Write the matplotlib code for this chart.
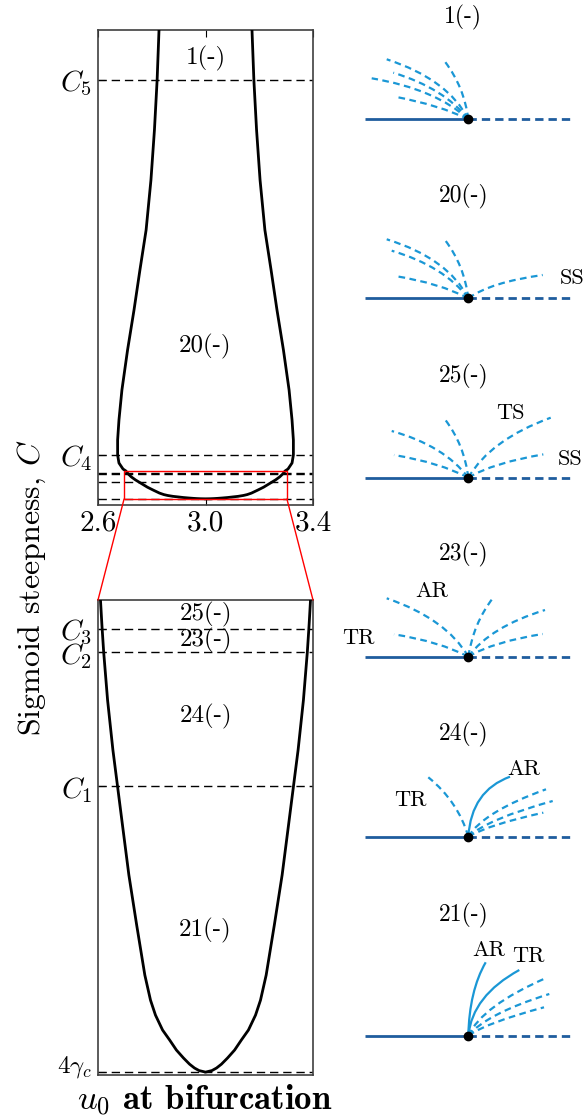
import numpy as np
import matplotlib.pyplot as plt
from matplotlib.path import Path
from matplotlib.patches import PathPatch, Rectangle, ConnectionPatch

plt.rcParams['font.family'] = 'serif'
plt.rcParams['font.serif'] = ['cmr10', 'DejaVu Serif']
plt.rcParams['mathtext.fontset'] = 'cm'
plt.rcParams['axes.formatter.use_mathtext'] = True

# bifurcation curve, C on the picture's own (arbitrary) vertical scale,
# half width of the loop in u0 around its centre
u_center = 3.0
C_curve = [50.0, 47.5, 42.5, 37.5, 32.5, 27.5, 23.5, 19.5, 15.5, 11.5, 8.5, 6.5, 5.0,
           4.2, 3.6, 3.4, 3.253, 3.093, 2.81, 2.516, 2.303, 2.073, 1.779, 1.484, 1.189,
           1.041, 0.953, 0.865, 0.806, 0.747, 0.700, 0.664, 0.641, 0.626, 0.617]
half_width = [0.171, 0.173, 0.180, 0.190, 0.203, 0.221, 0.244, 0.266, 0.290, 0.311,
              0.322, 0.327, 0.327, 0.322, 0.307, 0.296, 0.292, 0.287, 0.276, 0.261,
              0.248, 0.234, 0.216, 0.194, 0.171, 0.155, 0.141, 0.121, 0.101, 0.082,
              0.062, 0.045, 0.031, 0.018, 0.0]

# critical C levels
level_names = [r'$C_5$', r'$C_4$', r'$C_3$', r'$C_2$', r'$C_1$', r'$4\gamma_c$']
level_values = [42.5, 5.0, 3.229, 3.093, 2.303, 0.617]

# region labels
top_regions = ['1(-)', '20(-)']
top_region_C = [44.7, 15.9]
bot_regions = ['25(-)', '23(-)', '24(-)', '21(-)']
bot_region_C = [3.317, 3.164, 2.716, 1.454]

u_ticks = [2.6, 3.0, 3.4]
zoom_u = [2.697, 3.303]
zoom_C = [0.6, 3.4]

# schematic bifurcation diagrams: (end x, end y, bend x, bend y, stable)
diag_titles = ['1(-)', '20(-)', '25(-)', '23(-)', '24(-)', '21(-)']
branches_1 = [(-81.6, 60.0, -20, 40, 0), (-75.0, 46.6, -24, 31, 0), (-96.6, 41.0, -32, 30, 0),
              (-73.3, 22.6, -28, 14, 0), (-23.3, 57.6, -4, 32, 0)]
branches_20 = [(-81.6, 59.0, -20, 40, 0), (-76.6, 47.6, -24, 32, 0), (-73.3, 22.3, -28, 15, 0),
               (-23.3, 58.3, -4, 33, 0), (74.4, 23.3, 22, 16, 0)]
branches_25 = [(-76.6, 46.7, -24, 32, 0), (-74.3, 22.7, -28, 15, 0), (-23.3, 58.3, -4, 33, 0),
               (82.4, 60.0, 22, 38, 0), (75.0, 23.3, 25, 15, 0)]
branches_23 = [(-81.6, 58.4, -22, 38, 0), (-74.3, 22.4, -28, 15, 0), (24.4, 58.4, 5, 33, 0),
               (76.7, 46.7, 22, 30, 0), (74.4, 22.7, 25, 15, 0)]
branches_24 = [(-40.0, 59.4, -10, 35, 0), (41.7, 60.0, 3, 46, 1), (77.7, 47.4, 15, 25, 0),
               (84.4, 35.7, 20, 18, 0), (75.0, 24.0, 20, 12, 0)]
branches_21 = [(17.4, 73.4, 1, 45, 1), (51.0, 65.7, 4, 40, 1), (78.4, 58.0, 14, 30, 0),
               (81.0, 41.7, 18, 22, 0), (75.7, 28.4, 18, 13, 0)]
labels_1 = []
labels_20 = [('SS', 103.4, 20.0)]
labels_25 = [('TS', 41.7, 64.4), ('SS', 101.7, 18.4)]
labels_23 = [('AR', -36.6, 65.0), ('TR', -110.0, 18.4)]
labels_24 = [('AR', 55.0, 67.4), ('TR', -58.3, 36.0)]
labels_21 = [('AR', 20.0, 85.7), ('TR', 60.0, 79.0)]
all_branches = [branches_1, branches_20, branches_25, branches_23, branches_24, branches_21]
all_labels = [labels_1, labels_20, labels_25, labels_23, labels_24, labels_21]
base_left, base_right = -103.3, 103.7

W, H = 585, 1119
fig = plt.figure(figsize=(W / 100, H / 100), dpi=100)


def px_axes(x0, y0, x1, y1):
    return fig.add_axes([x0 / W, 1 - y1 / H, (x1 - x0) / W, (y1 - y0) / H])


hw = np.array(half_width)
u_loop = np.concatenate([u_center - hw, (u_center + hw)[::-1]])
C_loop = np.concatenate([C_curve, C_curve[::-1]])
dash = (0, (6, 3.5))

ax_top = px_axes(98, 30, 313, 505)
ax_bot = px_axes(98, 600, 313, 1075)
for ax in (ax_top, ax_bot):
    for v in level_values:
        ax.axhline(v, color='k', lw=1, ls=dash, zorder=1)
    ax.plot(u_loop, C_loop, color='k', lw=2, zorder=3, solid_joinstyle='round')
    for s in ax.spines.values():
        s.set_color('0.25')
        s.set_linewidth(1.2)

# ---- top panel
ax_top.set_xlim(2.6, 3.4)
ax_top.set_ylim(0, 47.5)
ax_top.set_xticks(u_ticks)
ax_top.set_xticklabels([f'{t:.1f}' for t in u_ticks])
ax_top.set_yticks(level_values[:2])
ax_top.set_yticklabels(level_names[:2])
ax_top.tick_params(direction='in', top=True, length=5, labelsize=21, pad=4)
for name, c in zip(top_regions, top_region_C):
    ax_top.text(u_center, c, name, ha='center', va='center', fontsize=18)

ax_top.add_patch(Rectangle((zoom_u[0], zoom_C[0]), zoom_u[1] - zoom_u[0], zoom_C[1] - zoom_C[0],
                           fill=False, edgecolor='red', lw=1, zorder=4))

# ---- bottom (zoomed) panel
ax_bot.set_xlim(*zoom_u)
ax_bot.set_ylim(*zoom_C)
ax_bot.set_xticks([])
ax_bot.set_yticks(level_values[2:])
ax_bot.set_yticklabels(level_names[2:])
ax_bot.tick_params(direction='in', length=5, labelsize=21, pad=4)
gamma_lbl = ax_bot.get_yticklabels()[-1]
gamma_lbl.set_fontsize(18)
gamma_lbl.set_va('baseline')
for name, c in zip(bot_regions, bot_region_C):
    ax_bot.text(u_center, c, name, ha='center', va='center', fontsize=18)

for xa, xb in ((zoom_u[0], 0), (zoom_u[1], 1)):
    con = ConnectionPatch(xyA=(xa, zoom_C[0]), coordsA=ax_top.transData,
                          xyB=(xb, 1), coordsB=ax_bot.transAxes, color='red', lw=1)
    fig.add_artist(con)

fig.text(32 / W, 1 - 588 / H, r'Sigmoid steepness, $C$', rotation=90,
         ha='center', va='center', fontsize=23)
fig.text(205 / W, 1 - 1100 / H, r'$u_0$ at bifurcation', fontfamily='cmb10',
         ha='center', va='center', fontsize=25)

# ---- schematic diagrams
base_col = '#1f5d9e'
branch_col = '#1a97d5'
dot_x = 468.3
dot_y = [119.3, 298.3, 477.7, 656.7, 836.7, 1035.7]
title_dy = [102, 102, 101, 102, 102, 120.7]

for title, branches, labels, yy, tdy in zip(diag_titles, all_branches, all_labels, dot_y, title_dy):
    ax = px_axes(dot_x - 118.3, yy - 135, W, yy + 12)
    ax.set_xlim(-118.3, W - dot_x)
    ax.set_ylim(-12, 135)
    ax.axis('off')
    ax.plot([base_left, 0], [0, 0], color=base_col, lw=2, solid_capstyle='butt')
    ax.plot([0, base_right], [0, 0], color=base_col, lw=2, ls=(0, (3, 1.8)))
    for ex, ey, cx, cy, stable in branches:
        p = Path([(0, 0), (cx, cy), (ex, ey)], [Path.MOVETO, Path.CURVE3, Path.CURVE3])
        ax.add_patch(PathPatch(p, fill=False, edgecolor=branch_col, lw=1.6,
                               ls='-' if stable else (0, (3, 2))))
    ax.plot(0, 0, 'o', color='k', ms=6, zorder=5)
    ax.text(-5, tdy, title, ha='center', va='center', fontsize=17, clip_on=False)
    for txt, lx, ly in labels:
        ax.text(lx, ly, txt, ha='center', va='center', fontsize=16, clip_on=False)

fig.savefig('out.png', dpi=100)
